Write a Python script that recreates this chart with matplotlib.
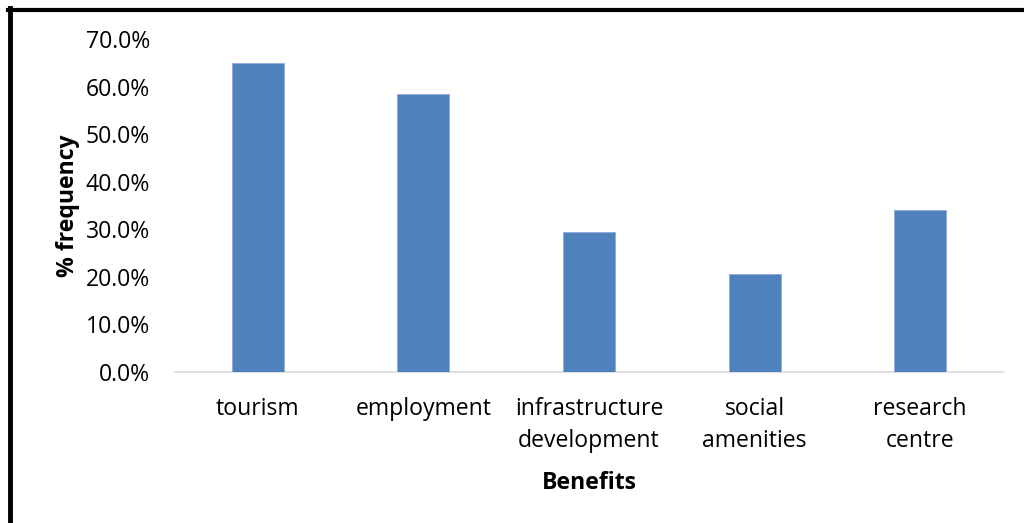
import matplotlib
matplotlib.use("Agg")
import matplotlib.pyplot as plt
from matplotlib.lines import Line2D
from matplotlib.ticker import FuncFormatter

categories = ["tourism", "employment", "infrastructure\ndevelopment", "social\namenities", "research\ncentre"]
frequency = [65.0, 58.5, 29.5, 20.5, 34.0]
y_ticks = [0, 10, 20, 30, 40, 50, 60, 70]

plt.rcParams["font.family"] = ["Open Sans", "DejaVu Sans"]
FS = 16.6

fig = plt.figure(figsize=(10.24, 5.23), dpi=100)
ax = fig.add_axes([0.1709, 0.2887, 0.8086, 0.6367])

x = list(range(len(categories)))
ax.bar(x, frequency, width=0.315, color="#4F81BD", edgecolor="#8EAADB", linewidth=0.6, zorder=3)

ax.set_xlim(-0.5, 4.5)
ax.set_ylim(0, 70)
ax.set_yticks(y_ticks)
ax.yaxis.set_major_formatter(FuncFormatter(lambda v, p: f"{v:.1f}%"))
ax.set_xticks(x)
ax.set_xticklabels(categories, fontsize=FS, linespacing=1.42)
ax.tick_params(axis="y", labelsize=FS, length=0, pad=18)
ax.tick_params(axis="x", length=0, pad=18)

for side in ["top", "right", "left"]:
    ax.spines[side].set_visible(False)
ax.spines["bottom"].set_color("#D9D9D9")
ax.spines["bottom"].set_linewidth(1.2)

ax.set_ylabel("% frequency", fontsize=FS, fontweight="bold", labelpad=4)
ax.set_xlabel("Benefits", fontsize=FS, fontweight="bold", labelpad=13)

# surrounding frame: thick top and left rules
fig.add_artist(Line2D([8 / 1024, 1.0], [1 - 9.5 / 523, 1 - 9.5 / 523], color="black", linewidth=3, transform=fig.transFigure))
fig.add_artist(Line2D([10 / 1024, 10 / 1024], [0.0, 1 - 8 / 523], color="black", linewidth=3.5, transform=fig.transFigure))

fig.savefig("out.png", dpi=100)
